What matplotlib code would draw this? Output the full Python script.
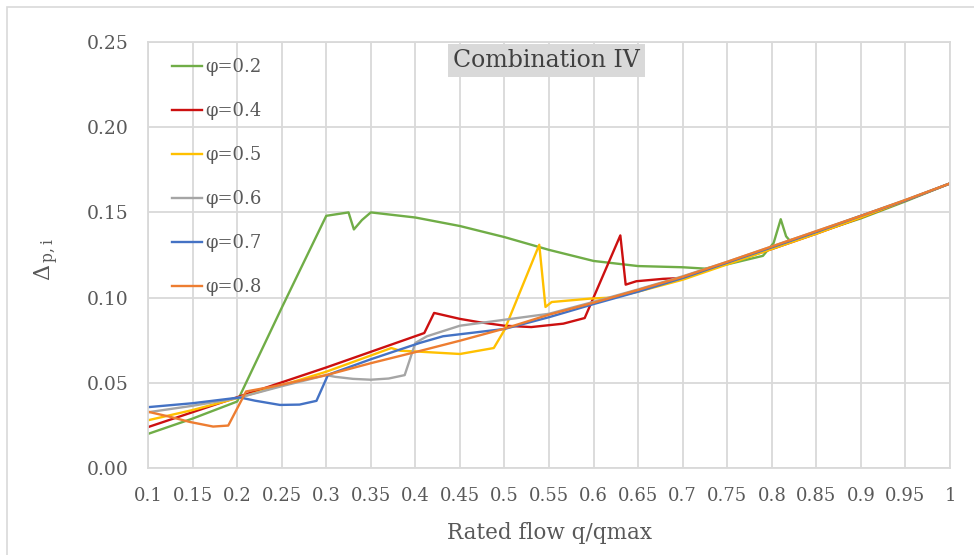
import matplotlib
matplotlib.use("Agg")
import matplotlib.pyplot as plt
from matplotlib.patches import Rectangle

plt.rcParams["font.family"] = ["DejaVu Serif"]
plt.rcParams["mathtext.fontset"] = "dejavuserif"

# Rated flow q/qmax tick values and labels
x_ticks = [0.1, 0.15, 0.2, 0.25, 0.3, 0.35, 0.4, 0.45, 0.5, 0.55, 0.6,
           0.65, 0.7, 0.75, 0.8, 0.85, 0.9, 0.95, 1.0]
x_labels = ["0.1", "0.15", "0.2", "0.25", "0.3", "0.35", "0.4", "0.45", "0.5",
            "0.55", "0.6", "0.65", "0.7", "0.75", "0.8", "0.85", "0.9", "0.95", "1"]
y_ticks = [0.00, 0.05, 0.10, 0.15, 0.20, 0.25]
y_labels = ["0.00", "0.05", "0.10", "0.15", "0.20", "0.25"]

# phi = 0.2
q_02 = [0.10, 0.15, 0.20, 0.25, 0.30, 0.325, 0.331, 0.34, 0.35, 0.40, 0.45,
        0.50, 0.55, 0.60, 0.65, 0.70, 0.725, 0.75, 0.79, 0.802, 0.810, 0.816,
        0.82, 0.85, 0.90, 0.95, 1.00]
d_02 = [0.020, 0.029, 0.039, 0.094, 0.148, 0.150, 0.140, 0.1455, 0.150, 0.147,
        0.142, 0.1355, 0.128, 0.1215, 0.1185, 0.1178, 0.117, 0.1195, 0.1245,
        0.132, 0.146, 0.136, 0.1335, 0.138, 0.1465, 0.1565, 0.167]

# phi = 0.4
q_04 = [0.10, 0.20, 0.30, 0.41, 0.421, 0.45, 0.47, 0.50, 0.53, 0.566, 0.59,
        0.63, 0.636, 0.648, 0.678, 0.70, 0.75, 0.80, 0.85, 0.90, 0.95, 1.00]
d_04 = [0.024, 0.0415, 0.059, 0.0792, 0.091, 0.0875, 0.0857, 0.0835, 0.0827,
        0.0847, 0.088, 0.1365, 0.1076, 0.1096, 0.111, 0.1115, 0.120, 0.1285,
        0.1375, 0.147, 0.157, 0.167]

# phi = 0.5
q_05 = [0.10, 0.15, 0.20, 0.25, 0.30, 0.373, 0.383, 0.40, 0.45, 0.488, 0.50,
        0.539, 0.546, 0.553, 0.596, 0.62, 0.65, 0.70, 0.75, 0.80, 0.85, 0.90,
        0.95, 1.00]
d_05 = [0.028, 0.034, 0.041, 0.0485, 0.0565, 0.0704, 0.0688, 0.0684, 0.0669,
        0.0704, 0.081, 0.131, 0.0945, 0.0974, 0.0994, 0.100, 0.1035, 0.1105,
        0.1195, 0.1285, 0.1375, 0.147, 0.157, 0.167]

# phi = 0.6
q_06 = [0.10, 0.15, 0.20, 0.25, 0.30, 0.31, 0.33, 0.35, 0.37, 0.388, 0.40,
        0.413, 0.45, 0.50, 0.55, 0.60, 0.65, 0.70, 0.75, 0.80, 0.85, 0.90,
        0.95, 1.00]
d_06 = [0.0327, 0.0365, 0.041, 0.048, 0.0545, 0.0535, 0.0523, 0.0518, 0.0525,
        0.0545, 0.0734, 0.0773, 0.0835, 0.087, 0.0905, 0.0975, 0.1048, 0.1125,
        0.121, 0.130, 0.139, 0.148, 0.1573, 0.167]

# phi = 0.7
q_07 = [0.10, 0.15, 0.203, 0.22, 0.248, 0.27, 0.289, 0.302, 0.35, 0.405,
        0.431, 0.50, 0.55, 0.60, 0.65, 0.70, 0.75, 0.80, 0.85, 0.90, 0.95, 1.00]
d_07 = [0.0357, 0.038, 0.0414, 0.0395, 0.037, 0.0372, 0.0394, 0.0547, 0.0638,
        0.0734, 0.0773, 0.0816, 0.0885, 0.0962, 0.1035, 0.1115, 0.1205, 0.1295,
        0.1385, 0.148, 0.157, 0.167]

# phi = 0.8
q_08 = [0.10, 0.125, 0.147, 0.173, 0.19, 0.21, 0.24, 0.30, 0.35, 0.40, 0.45,
        0.50, 0.55, 0.60, 0.65, 0.70, 0.75, 0.80, 0.85, 0.90, 0.95, 1.00]
d_08 = [0.033, 0.030, 0.027, 0.0243, 0.0249, 0.0449, 0.0478, 0.0545, 0.0615,
        0.068, 0.0747, 0.0818, 0.090, 0.097, 0.1045, 0.1122, 0.121, 0.130,
        0.139, 0.148, 0.1573, 0.167]

series_labels = ["φ=0.2", "φ=0.4", "φ=0.5", "φ=0.6", "φ=0.7", "φ=0.8"]
series_colors = ["#70AD47", "#CC1010", "#FFC000", "#A5A5A5", "#4472C4", "#ED7D31"]
series_data = [(q_02, d_02), (q_04, d_04), (q_05, d_05),
               (q_06, d_06), (q_07, d_07), (q_08, d_08)]

text_color = "#595959"
grid_color = "#D9D9D9"

fig = plt.figure(figsize=(9.74, 5.55), dpi=100)
fig.patch.set_facecolor("white")
fig.patches.append(Rectangle((7 / 974, -0.05), 1.2, 1 - 7 / 555 + 0.05,
                             transform=fig.transFigure, fill=False,
                             edgecolor=grid_color, linewidth=1.2))

ax = fig.add_axes([0.152, 0.1568, 0.8234, 0.7675])

for (q, d), lab, col in zip(series_data, series_labels, series_colors):
    ax.plot(q, d, color=col, linewidth=1.7, label=lab, solid_joinstyle="round")

ax.set_xlim(0.1, 1.0)
ax.set_ylim(0.0, 0.25)
ax.set_xticks(x_ticks)
ax.set_xticklabels(x_labels)
ax.set_yticks(y_ticks)
ax.set_yticklabels(y_labels)
ax.tick_params(axis="both", length=0, colors=text_color)
ax.tick_params(axis="x", pad=14, labelsize=13)
ax.tick_params(axis="y", pad=14, labelsize=13.5)

ax.grid(True, color=grid_color, linewidth=1.3)
ax.set_axisbelow(True)
for side in ["left", "bottom", "top", "right"]:
    ax.spines[side].set_color(grid_color)
    ax.spines[side].set_linewidth(1.3)

ax.set_xlabel("Rated flow q/qmax", fontsize=15.5, color=text_color)
ax.xaxis.set_label_coords(0.5, -0.128)
ax.set_ylabel(r"$\Delta_{\,\mathrm{p,i}}$", fontsize=16, color=text_color,
              rotation=90)
ax.yaxis.set_label_coords(-0.108, 0.49)

ax.text(0.547, 0.2393, "Combination IV", fontsize=17, color="#404040",
        ha="center", va="center",
        bbox=dict(boxstyle="square,pad=0.22", facecolor=grid_color,
                  edgecolor="none"))

leg = ax.legend(loc="upper left", bbox_to_anchor=(0.030, 0.962), frameon=False,
                fontsize=13, handlelength=1.65, handletextpad=0.2,
                labelspacing=1.44, borderpad=0, borderaxespad=0)
for txt in leg.get_texts():
    txt.set_color(text_color)

fig.savefig("out.png", dpi=100)
